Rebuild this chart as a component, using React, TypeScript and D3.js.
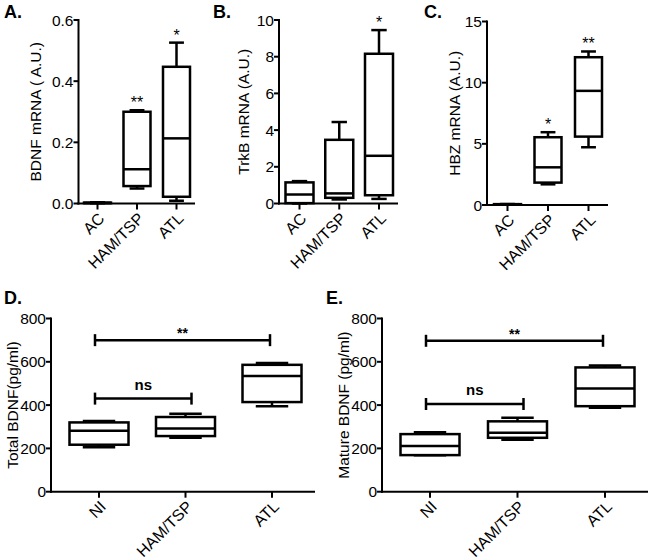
import React from "react";
import * as d3 from "d3";

// ---------- data ----------
const mrnaCats = ["AC", "HAM/TSP", "ATL"];
const proteinCats = ["NI", "HAM/TSP", "ATL"];

// five-number summaries [min, q1, median, q3, max]
const bdnfMrna = [
  [0.001, 0.001, 0.002, 0.003, 0.004],
  [0.049, 0.057, 0.112, 0.3, 0.305],
  [0.009, 0.022, 0.213, 0.447, 0.526],
];
const trkbMrna = [
  [0.0, 0.02, 0.49, 1.15, 1.22],
  [0.22, 0.31, 0.55, 3.47, 4.44],
  [0.25, 0.45, 2.6, 8.16, 9.45],
];
const hbzMrna = [
  [0.02, 0.03, 0.05, 0.07, 0.08],
  [1.69, 1.83, 3.08, 5.54, 5.95],
  [4.72, 5.59, 9.33, 12.08, 12.55],
];
const totalBdnf = [
  [205, 217, 282, 320, 326],
  [249, 257, 292, 345, 360],
  [395, 414, 534, 586, 595],
];
const matureBdnf = [
  [168, 169, 211, 266, 275],
  [240, 249, 272, 325, 342],
  [388, 395, 477, 574, 583],
];

const bdnfStars = ["", "**", "*"];
const trkbStars = ["", "", "*"];
const hbzStars = ["", "*", "**"];

const bdnfTicks = [0, 0.2, 0.4, 0.6];
const trkbTicks = [0, 2, 4, 6, 8, 10];
const hbzTicks = [0, 5, 10, 15];
const pgTicks = [0, 200, 400, 600, 800];

// brackets: [fromCategory, toCategory, yValue, label]
const totalBrackets: [string, string, number, string][] = [
  ["NI", "HAM/TSP", 430, "ns"],
  ["NI", "ATL", 700, "**"],
];
const matureBrackets: [string, string, number, string][] = [
  ["NI", "HAM/TSP", 405, "ns"],
  ["NI", "ATL", 697, "**"],
];

const FONT = "'Liberation Sans', Arial, Helvetica, sans-serif";

type PanelProps = {
  letter: string;
  letterX: number;
  letterY: number;
  ylabel: string;
  ylabelX: number;
  cats: string[];
  data: number[][];
  ticks: number[];
  tickFmt: (v: number) => string;
  axisX: number;
  yTop: number;
  yBottom: number;
  xFirst: number;
  xLast: number;
  xEnd: number;
  boxW: number;
  stars?: string[];
  brackets?: [string, string, number, string][];
};

function Panel(p: PanelProps) {
  const dom = [p.ticks[0], p.ticks[p.ticks.length - 1]];
  const y = d3.scaleLinear().domain(dom).range([p.yBottom, p.yTop]);
  const x = d3.scalePoint<string>().domain(p.cats).range([p.xFirst, p.xLast]);
  const capW = p.boxW * 0.55;
  const sw = 2.5;
  return (
    <g fontFamily={FONT} fill="#000">
      <text x={p.letterX} y={p.letterY} fontSize={18} fontWeight="bold">
        {p.letter}
      </text>
      <text
        transform={`translate(${p.ylabelX},${(p.yTop + p.yBottom) / 2}) rotate(-90)`}
        textAnchor="middle"
        fontSize={15.5}
      >
        {p.ylabel}
      </text>
      {/* y axis */}
      <line x1={p.axisX} x2={p.axisX} y1={p.yTop - 1} y2={p.yBottom + 1} stroke="#000" strokeWidth={2} />
      {p.ticks.map((t) => (
        <g key={t}>
          <line x1={p.axisX - 5} x2={p.axisX} y1={y(t)} y2={y(t)} stroke="#000" strokeWidth={2} />
          <text x={p.axisX - 5} y={y(t)} dy="0.36em" textAnchor="end" fontSize={15.5}>
            {p.tickFmt(t)}
          </text>
        </g>
      ))}
      {/* x axis */}
      <line x1={p.axisX - 1} x2={p.xEnd} y1={p.yBottom} y2={p.yBottom} stroke="#000" strokeWidth={2} />
      {p.cats.map((c) => (
        <g key={c}>
          <line x1={x(c)} x2={x(c)} y1={p.yBottom} y2={p.yBottom + 6} stroke="#000" strokeWidth={2} />
          <text
            transform={`translate(${(x(c) as number) + 4},${p.yBottom + 12}) rotate(-45)`}
            textAnchor="end"
            dy="0.35em"
            fontSize={16}
          >
            {c}
          </text>
        </g>
      ))}
      {/* boxes */}
      {p.data.map((d, i) => {
        const cx = x(p.cats[i]) as number;
        const [mn, q1, md, q3, mx] = d;
        return (
          <g key={i} stroke="#000" strokeWidth={sw} fill="none">
            <line x1={cx} x2={cx} y1={y(mx)} y2={y(q3)} />
            <line x1={cx} x2={cx} y1={y(q1)} y2={y(mn)} />
            <line x1={cx - capW / 2} x2={cx + capW / 2} y1={y(mx)} y2={y(mx)} />
            <line x1={cx - capW / 2} x2={cx + capW / 2} y1={y(mn)} y2={y(mn)} />
            <rect x={cx - p.boxW / 2} y={y(q3)} width={p.boxW} height={Math.max(0.5, y(q1) - y(q3))} fill="#fff" />
            <line x1={cx - p.boxW / 2} x2={cx + p.boxW / 2} y1={y(md)} y2={y(md)} />
          </g>
        );
      })}
      {p.stars &&
        p.stars.map((s, i) =>
          s ? (
            <text
              key={"s" + i}
              x={x(p.cats[i]) as number}
              y={y(p.data[i][4]) - 2}
              textAnchor="middle"
              fontSize={16}
            >
              {s}
            </text>
          ) : null
        )}
      {p.brackets &&
        p.brackets.map(([a, b, v, lab], i) => {
          const x1 = (x(a) as number) - 4;
          const x2 = (x(b) as number) + (b === "ATL" ? -2 : 6);
          const yy = y(v);
          return (
            <g key={"b" + i}>
              <line x1={x1} x2={x2} y1={yy} y2={yy} stroke="#000" strokeWidth={2.5} />
              <line x1={x1} x2={x1} y1={yy - 6} y2={yy + 6} stroke="#000" strokeWidth={2.5} />
              <line x1={x2} x2={x2} y1={yy - 6} y2={yy + 6} stroke="#000" strokeWidth={2.5} />
              <text
                x={(x1 + x2) / 2}
                y={lab === "ns" ? yy - 9 : yy - 2}
                textAnchor="middle"
                fontSize={lab === "ns" ? 15 : 14}
                fontWeight="bold"
              >
                {lab}
              </text>
            </g>
          );
        })}
    </g>
  );
}

export default function App() {
  return (
    <svg
      width={650}
      height={560}
      style={{ position: "absolute", left: 0, top: 0, background: "#fff" }}
    >
      <rect width={650} height={560} fill="#fff" />
      <Panel
        letter="A." letterX={4} letterY={18}
        ylabel="BDNF mRNA ( A.U.)" ylabelX={41}
        cats={mrnaCats} data={bdnfMrna} ticks={bdnfTicks} tickFmt={(v) => v.toFixed(1)}
        axisX={78.5} yTop={20} yBottom={203.5}
        xFirst={97.5} xLast={176.5} xEnd={195} boxW={27}
        stars={bdnfStars}
      />
      <Panel
        letter="B." letterX={213} letterY={18}
        ylabel="TrkB mRNA (A.U.)" ylabelX={249}
        cats={mrnaCats} data={trkbMrna} ticks={trkbTicks} tickFmt={(v) => String(v)}
        axisX={279} yTop={20} yBottom={203.5}
        xFirst={299.5} xLast={379} xEnd={398} boxW={28}
        stars={trkbStars}
      />
      <Panel
        letter="C." letterX={424} letterY={18}
        ylabel="HBZ mRNA (A.U.)" ylabelX={460}
        cats={mrnaCats} data={hbzMrna} ticks={hbzTicks} tickFmt={(v) => String(v)}
        axisX={487} yTop={21.5} yBottom={205}
        xFirst={507.5} xLast={588.5} xEnd={608} boxW={27}
        stars={hbzStars}
      />
      <Panel
        letter="D." letterX={4} letterY={304}
        ylabel="Total BDNF(pg/ml)" ylabelX={18}
        cats={proteinCats} data={totalBdnf} ticks={pgTicks} tickFmt={(v) => String(v)}
        axisX={51} yTop={318.5} yBottom={491.7}
        xFirst={99} xLast={272} xEnd={315} boxW={59}
        brackets={totalBrackets}
      />
      <Panel
        letter="E." letterX={326} letterY={304}
        ylabel="Mature BDNF (pg/ml)" ylabelX={349}
        cats={proteinCats} data={matureBdnf} ticks={pgTicks} tickFmt={(v) => String(v)}
        axisX={382} yTop={318.5} yBottom={491.7}
        xFirst={430} xLast={605} xEnd={648} boxW={59}
        brackets={matureBrackets}
      />
    </svg>
  );
}
